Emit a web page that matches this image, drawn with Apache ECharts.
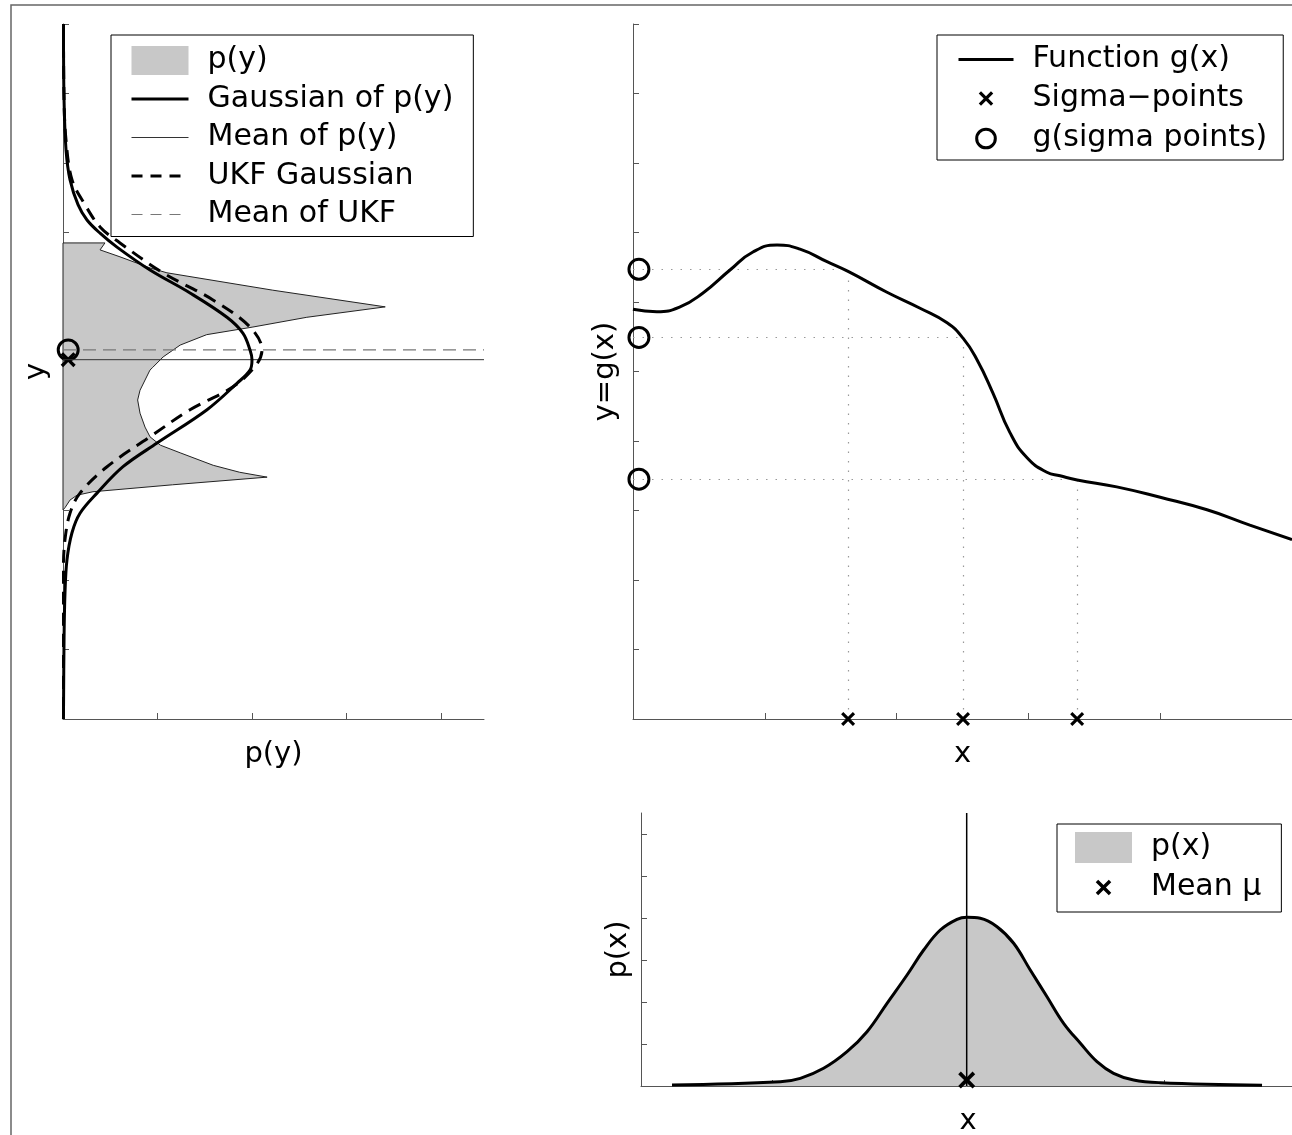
<!DOCTYPE html>
<html>
<head>
<meta charset="utf-8">
<title>Unscented transform</title>
<script src="https://cdn.jsdelivr.net/npm/echarts@6.0.0/dist/echarts.min.js"></script>
<style>
html, body { margin: 0; padding: 0; background: #fff; }
#main { width: 1292px; height: 1135px; }
</style>
</head>
<body>
<div id="main"></div>
<script>
// values (axis units, no tick labels in the original)

// g(x), top right panel
var gX = [0, 0.18, 0.357, 0.531, 0.736, 0.91, 1.093, 1.267, 1.472, 1.632, 1.927, 2.178, 2.383, 2.504, 2.61, 2.731, 2.86, 2.99, 3.14, 3.24, 3.37, 3.67, 4.0, 4.355, 4.68, 5.0];
var gY = [5.895, 5.86, 5.93, 6.13, 6.46, 6.72, 6.82, 6.76, 6.58, 6.44, 6.14, 5.91, 5.70, 5.48, 5.17, 4.69, 4.12, 3.76, 3.55, 3.50, 3.44, 3.34, 3.19, 3.01, 2.79, 2.58];

// sigma points and g(sigma points)
var sigmaX = [1.632, 2.504, 3.37];
var sigmaG = [6.47, 5.49, 3.45];
var circleX = 0.045;

// p(x), bottom panel
var pxX = [0.237, 1.065, 1.218, 1.396, 1.575, 1.728, 1.881, 2.034, 2.161, 2.288, 2.416, 2.492, 2.594, 2.722, 2.849, 2.976, 3.104, 3.231, 3.359, 3.486, 3.613, 3.766, 3.970, 4.748];
var pxY = [0.024, 0.102, 0.183, 0.421, 0.817, 1.293, 1.969, 2.643, 3.238, 3.714, 3.969, 4.017, 3.993, 3.793, 3.398, 2.762, 2.126, 1.493, 1.017, 0.579, 0.302, 0.143, 0.079, 0.017];
var meanX = 2.49;
var meanMarkY = 0.14;

// p(y) outline, left panel (density on x, y on y)
var pyDens = [0, 0.444, 0.392, 0.603, 0.921, 1.10, 2.22, 3.41, 2.58, 2.01, 1.52, 1.24, 1.06, 0.95, 0.92, 0.815, 0.79, 0.815, 0.868, 0.921, 1.03, 1.24, 1.59, 1.87, 2.16, 1.16, 0.317, 0.148, 0.074, 0.021, 0];
var pyY = [6.85, 6.85, 6.75, 6.65, 6.49, 6.42, 6.17, 5.93, 5.78, 5.64, 5.53, 5.38, 5.21, 5.06, 5.02, 4.73, 4.59, 4.40, 4.20, 4.06, 3.94, 3.83, 3.65, 3.55, 3.48, 3.37, 3.27, 3.22, 3.15, 3.04, 3.01];

// gaussian of p(y)
var gaussDens = [0.005, 0.011, 0.032, 0.074, 0.159, 0.254, 0.392, 0.571, 0.921, 1.344, 1.735, 1.905, 1.979, 2.0, 1.979, 1.841, 1.524, 0.995, 0.635, 0.36, 0.18, 0.095, 0.042, 0.021, 0.011, 0.005];
var gaussY = [10.0, 8.91, 8.19, 7.76, 7.40, 7.18, 6.99, 6.79, 6.46, 6.13, 5.78, 5.55, 5.31, 5.17, 5.02, 4.83, 4.45, 3.97, 3.63, 3.25, 2.96, 2.68, 2.29, 1.81, 1.14, 0];

// UKF gaussian
var ukfDens = [0.005, 0.011, 0.032, 0.095, 0.233, 0.392, 0.603, 1.058, 1.587, 1.979, 2.106, 2.042, 1.799, 1.344, 0.921, 0.466, 0.18, 0.074, 0.021, 0.005, 0.005];
var ukfY = [10.0, 8.91, 8.33, 7.76, 7.40, 7.08, 6.85, 6.42, 6.03, 5.64, 5.31, 5.09, 4.78, 4.45, 4.06, 3.63, 3.25, 2.96, 2.58, 2.19, 0];

var meanPy = 5.17;
var meanUkf = 5.31;
var markX = 0.055;

// axis ranges and tick positions
var leftXMax = 4.455;
var ticks4 = [1, 2, 3, 4];
var ticks10 = [1, 2, 3, 4, 5, 6, 7, 8, 9, 10];
var ticks6 = [1, 2, 3, 4, 5, 6];

var FONT = 'DejaVu Sans';
var GREY = '#c8c8c8';
// padded paths so the marks keep a fixed size inside legend boxes
var crossPath = 'path://M-7,-7M21,21M0,2.2L2.2,0L7,4.8L11.8,0L14,2.2L9.2,7L14,11.8L11.8,14L7,9.2L2.2,14L0,11.8L4.8,7Z';
var circlePath = 'path://M-5,-5M23,23M0,9A9,9,0,1,1,18,9A9,9,0,1,1,0,9Z';

function pairs(xs, ys) {
    return xs.map(function (x, i) { return [x, ys[i]]; });
}

function valueAxis(grid, min, max, ticks, name, gap) {
    return {
        type: 'value', gridIndex: grid, min: min, max: max,
        name: name, nameLocation: 'middle', nameGap: gap,
        nameTextStyle: { fontFamily: FONT, fontSize: 29, color: '#000' },
        axisLine: { show: true, onZero: false, lineStyle: { color: '#555', width: 1 } },
        axisTick: { show: true, inside: true, length: 6, customValues: ticks, lineStyle: { color: '#555' } },
        axisLabel: { show: false },
        splitLine: { show: false }
    };
}

var guides = [];
sigmaX.forEach(function (x, i) {
    guides.push({ coords: [[0, sigmaG[i]], [x, sigmaG[i]]] });
    guides.push({ coords: [[x, 0], [x, sigmaG[i]]] });
});

var legendText = { fontFamily: FONT, fontSize: 30, color: '#000', padding: [0, 0, 0, 14] };
var noMark = { opacity: 0 };
var crossMark = { color: '#000', borderWidth: 0, opacity: 1 };
var ringMark = { color: 'rgba(0,0,0,0)', borderColor: '#000', borderWidth: 3, opacity: 1 };

var dom = document.getElementById('main');
var myChart = echarts.init(dom, null, { renderer: 'canvas' });
var option = {
    animation: false,
    backgroundColor: '#fff',
    grid: [
        { left: 63, top: 24, width: 421, height: 695, outerBoundsMode: 'none' },
        { left: 633, top: 24, width: 659, height: 695, outerBoundsMode: 'none' },
        { left: 641, top: 813, width: 654, height: 273, outerBoundsMode: 'none' }
    ],
    xAxis: [
        valueAxis(0, 0, leftXMax, ticks4, 'p(y)', 21),
        valueAxis(1, 0, 5, ticks4, 'x', 21),
        valueAxis(2, 0, 5, ticks4, 'x', 21)
    ],
    yAxis: [
        valueAxis(0, 0, 10, ticks10, 'y', 12),
        valueAxis(1, 0, 10, ticks10, 'y=g(x)', 13),
        valueAxis(2, 0, 6.5, ticks6, 'p(x)', 8)
    ],
    legend: [
        {
            left: 111, top: 35, orient: 'vertical', selectedMode: false,
            itemWidth: 57, itemHeight: 29, itemGap: 8.5,
            padding: [10.5, 20, 7, 19],
            borderColor: '#000', borderWidth: 1, backgroundColor: '#fff',
            textStyle: legendText,
            data: [
                { name: 'p(y)', icon: 'rect', itemStyle: { color: GREY, borderWidth: 0, opacity: 1 } },
                { name: 'Gaussian of p(y)', itemStyle: noMark, lineStyle: { width: 3, color: '#000', type: 'solid' } },
                { name: 'Mean of p(y)', itemStyle: noMark, lineStyle: { width: 1, color: '#333', type: 'solid' } },
                { name: 'UKF Gaussian', itemStyle: noMark, lineStyle: { width: 3, color: '#000', type: [11, 8] } },
                { name: 'Mean of UKF', itemStyle: noMark, lineStyle: { width: 1, color: '#777', type: [11, 8] } }
            ]
        },
        {
            left: 937, top: 35, orient: 'vertical', selectedMode: false,
            itemWidth: 55, itemHeight: 29, itemGap: 9,
            padding: [9.5, 16, 5.5, 20],
            borderColor: '#000', borderWidth: 1, backgroundColor: '#fff',
            textStyle: legendText,
            data: [
                { name: 'Function g(x)', itemStyle: noMark, lineStyle: { width: 3, color: '#000', type: 'solid' } },
                { name: 'Sigma\u2212points', itemStyle: crossMark },
                { name: 'g(sigma points)', itemStyle: ringMark }
            ]
        },
        {
            left: 1057, top: 824, orient: 'vertical', selectedMode: false,
            itemWidth: 57, itemHeight: 31, itemGap: 9,
            padding: [8, 20, 9, 18],
            borderColor: '#000', borderWidth: 1, backgroundColor: '#fff',
            textStyle: legendText,
            data: [
                { name: 'p(x)', icon: 'rect', itemStyle: { color: GREY, borderWidth: 0, opacity: 1 } },
                { name: 'Mean \u03bc', itemStyle: crossMark }
            ]
        }
    ],
    graphic: [
        // figure frame
        { type: 'rect', z: -1, silent: true, shape: { x: 11, y: 5, width: 1400, height: 1300 },
          style: { fill: 'none', stroke: '#666', lineWidth: 1.5 } }
    ],
    series: [
        // ---- left panel ----
        {
            type: 'custom', name: 'p(y)', xAxisIndex: 0, yAxisIndex: 0, silent: true,
            data: pairs(pyDens, pyY),
            itemStyle: { color: GREY },
            renderItem: function (params, api) {
                if (params.dataIndex !== 0) return null;
                var pts = pyDens.map(function (d, i) { return api.coord([d, pyY[i]]); });
                return {
                    type: 'polygon', shape: { points: pts },
                    style: { fill: GREY, stroke: '#222', lineWidth: 1 }
                };
            }
        },
        {
            type: 'line', name: 'Mean of p(y)', xAxisIndex: 0, yAxisIndex: 0, silent: true,
            data: [[0, meanPy], [leftXMax, meanPy]], symbol: 'none',
            lineStyle: { color: '#333', width: 1 }
        },
        {
            type: 'line', name: 'Mean of UKF', xAxisIndex: 0, yAxisIndex: 0, silent: true,
            data: [[0, meanUkf], [leftXMax, meanUkf]], symbol: 'none',
            lineStyle: { color: '#777', width: 1.2, type: [13, 7] }
        },
        {
            type: 'line', name: 'UKF Gaussian', xAxisIndex: 0, yAxisIndex: 0, silent: true,
            data: pairs(ukfDens, ukfY), symbol: 'none', smooth: 0.35,
            lineStyle: { color: '#000', width: 3, type: [13, 8] }
        },
        {
            type: 'line', name: 'Gaussian of p(y)', xAxisIndex: 0, yAxisIndex: 0, silent: true,
            data: pairs(gaussDens, gaussY), symbol: 'none', smooth: 0.35,
            lineStyle: { color: '#000', width: 3 }
        },
        {
            type: 'scatter', name: 'UKF mean mark', xAxisIndex: 0, yAxisIndex: 0, silent: true, clip: false,
            data: [[markX, meanUkf]], symbol: circlePath, symbolSize: 31,
            itemStyle: ringMark
        },
        {
            type: 'scatter', name: 'p(y) mean mark', xAxisIndex: 0, yAxisIndex: 0, silent: true, clip: false,
            data: [[markX, meanPy]], symbol: crossPath, symbolSize: 30,
            itemStyle: crossMark
        },

        // ---- top right panel ----
        {
            type: 'lines', name: 'guides', coordinateSystem: 'cartesian2d', xAxisIndex: 1, yAxisIndex: 1, silent: true,
            data: guides,
            lineStyle: { color: '#999', width: 1.2, type: [1.5, 8], opacity: 1 }
        },
        {
            type: 'line', name: 'Function g(x)', xAxisIndex: 1, yAxisIndex: 1, silent: true,
            data: pairs(gX, gY), symbol: 'none', smooth: 0.5,
            lineStyle: { color: '#000', width: 3 }
        },
        {
            type: 'scatter', name: 'Sigma\u2212points', xAxisIndex: 1, yAxisIndex: 1, silent: true, clip: false,
            data: sigmaX.map(function (x) { return [x, 0]; }), symbol: crossPath, symbolSize: 28,
            itemStyle: crossMark
        },
        {
            type: 'scatter', name: 'g(sigma points)', xAxisIndex: 1, yAxisIndex: 1, silent: true, clip: false,
            data: sigmaG.map(function (g) { return [circleX, g]; }), symbol: circlePath, symbolSize: 31,
            itemStyle: ringMark
        },

        // ---- bottom panel ----
        {
            type: 'line', name: 'p(x)', xAxisIndex: 2, yAxisIndex: 2, silent: true,
            data: pairs(pxX, pxY), symbol: 'none', smooth: 0.4,
            lineStyle: { color: GREY, width: 0 },
            areaStyle: { color: GREY, opacity: 1 }
        },
        {
            type: 'line', name: 'mean line', xAxisIndex: 2, yAxisIndex: 2, silent: true,
            data: [[meanX, 0], [meanX, 6.5]], symbol: 'none',
            lineStyle: { color: '#000', width: 1.5 }
        },
        {
            type: 'line', name: 'p(x) curve', xAxisIndex: 2, yAxisIndex: 2, silent: true,
            data: pairs(pxX, pxY), symbol: 'none', smooth: 0.4,
            lineStyle: { color: '#000', width: 3 }
        },
        {
            type: 'scatter', name: 'Mean \u03bc', xAxisIndex: 2, yAxisIndex: 2, silent: true, clip: false, z: 5,
            data: [[meanX, meanMarkY]], symbol: crossPath, symbolSize: 34,
            itemStyle: crossMark
        }
    ]
};

if (option && typeof option === 'object') {
    myChart.setOption(option, true);
}
</script>
</body>
</html>
